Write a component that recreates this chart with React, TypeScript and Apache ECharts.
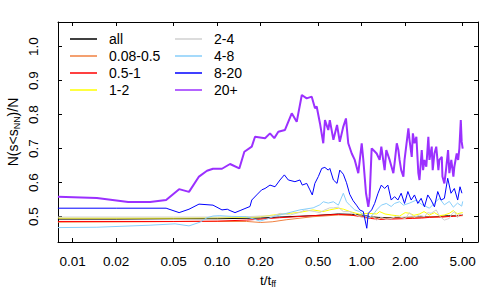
import React, { useEffect, useRef } from "react";
import * as echarts from "echarts";

const FONT = "Liberation Sans";

const seriesNames = ["all", "0.08-0.5", "0.5-1", "1-2", "2-4", "4-8", "8-20", "20+"];
const seriesColors = ["#000000", "#F08040", "#FF0000", "#FFFF00", "#D0D0D0", "#87CEFA", "#0000FF", "#9B30FF"];
const seriesWidths = [1, 1, 1, 1, 1, 1, 1, 2];

const xTickValues = [0.01, 0.02, 0.05, 0.1, 0.2, 0.5, 1, 2, 5];
const yTickValues = [0.5, 0.6, 0.7, 0.8, 0.9, 1.0];
const xRange = [0.00791, 6.38];
const yRange = [0.4256, 1.0726];

const allData = [
  [0.0079, 0.493], [0.02, 0.493], [0.05, 0.494], [0.1, 0.494], [0.2, 0.496], [0.27, 0.499],
  [0.46, 0.503], [0.69, 0.508], [0.85, 0.507], [1.0, 0.505], [1.15, 0.5], [1.3, 0.498],
  [1.6, 0.497], [2.0, 0.498], [2.5, 0.499], [3.0, 0.5], [3.5, 0.501], [4.0, 0.503], [4.5, 0.503], [5.0, 0.505],
];

const orangeData = [
  [0.0079, 0.484], [0.03, 0.485], [0.06, 0.486], [0.1, 0.486], [0.16, 0.486], [0.2, 0.483],
  [0.24, 0.485], [0.3, 0.491], [0.46, 0.5], [0.69, 0.505], [0.9, 0.504], [1.1, 0.499],
  [1.3, 0.495], [1.6, 0.496], [2.0, 0.497], [2.5, 0.498], [3.0, 0.5], [3.6, 0.499], [4.2, 0.502], [5.0, 0.503],
];

const redData = [
  [0.0079, 0.486], [0.05, 0.486], [0.1, 0.487], [0.16, 0.49], [0.27, 0.497], [0.46, 0.503],
  [0.69, 0.507], [0.83, 0.505], [1.0, 0.5], [1.15, 0.495], [1.33, 0.492], [1.6, 0.493],
  [1.9, 0.494], [2.26, 0.495], [2.6, 0.496], [2.94, 0.498], [3.4, 0.499], [3.83, 0.5],
  [4.3, 0.501], [4.6, 0.502], [5.0, 0.505],
];

const yellowData = [
  [0.0079, 0.496], [0.05, 0.496], [0.1, 0.497], [0.16, 0.498], [0.2, 0.5], [0.244, 0.505],
  [0.32, 0.51], [0.374, 0.513], [0.46, 0.52], [0.54, 0.515], [0.6, 0.52], [0.69, 0.525],
  [0.75, 0.522], [0.83, 0.515], [0.97, 0.507], [1.1, 0.51], [1.27, 0.508], [1.33, 0.515],
  [1.45, 0.508], [1.6, 0.505], [1.83, 0.502], [2.0, 0.512], [2.14, 0.51], [2.3, 0.504],
  [2.51, 0.508], [2.7, 0.515], [2.94, 0.505], [3.19, 0.512], [3.45, 0.503], [3.73, 0.505],
  [4.04, 0.51], [4.31, 0.518], [4.6, 0.508], [4.74, 0.51], [5.0, 0.512],
];

const grayData = [
  [0.0079, 0.499], [0.05, 0.499], [0.1, 0.499], [0.16, 0.5], [0.2, 0.502], [0.244, 0.502],
  [0.272, 0.51], [0.32, 0.505], [0.374, 0.513], [0.405, 0.52], [0.474, 0.515], [0.513, 0.512],
  [0.542, 0.518], [0.6, 0.526], [0.637, 0.526], [0.689, 0.528], [0.746, 0.515], [0.826, 0.515],
  [0.969, 0.5], [1.084, 0.495], [1.18, 0.503], [1.269, 0.49], [1.367, 0.498], [1.48, 0.492],
  [1.6, 0.495], [1.75, 0.502], [1.83, 0.5], [2.0, 0.494], [2.142, 0.512], [2.3, 0.498],
  [2.51, 0.505], [2.72, 0.5], [2.86, 0.512], [3.02, 0.51], [3.28, 0.52], [3.45, 0.502],
  [3.73, 0.49], [4.04, 0.495], [4.2, 0.508], [4.38, 0.515], [4.6, 0.497], [4.74, 0.508], [5.0, 0.505],
];

const lightBlueData = [
  [0.0079, 0.468], [0.0147, 0.469], [0.0343, 0.475], [0.0511, 0.479], [0.0638, 0.473],
  [0.0761, 0.484], [0.085, 0.497], [0.0935, 0.502], [0.1043, 0.503], [0.125, 0.501],
  [0.1593, 0.5], [0.1827, 0.492], [0.1977, 0.487], [0.22, 0.493], [0.2441, 0.5], [0.3013, 0.51],
  [0.3736, 0.52], [0.4612, 0.526], [0.5133, 0.535], [0.5422, 0.544], [0.5867, 0.54], [0.637, 0.544],
  [0.689, 0.534], [0.746, 0.569], [0.785, 0.544], [0.826, 0.534], [0.895, 0.52], [0.969, 0.515],
  [1.026, 0.505], [1.084, 0.5], [1.135, 0.497], [1.229, 0.512], [1.269, 0.52], [1.367, 0.534],
  [1.48, 0.539], [1.6, 0.53], [1.688, 0.539], [1.828, 0.544], [1.943, 0.534], [2.142, 0.54],
  [2.39, 0.549], [2.6, 0.536], [2.943, 0.525], [3.186, 0.54], [3.449, 0.554], [3.734, 0.535],
  [4.04, 0.545], [4.31, 0.528], [4.6, 0.54], [4.92, 0.531], [5.0, 0.545],
];

const blueData = [
  [0.0079, 0.525], [0.02, 0.525], [0.0443, 0.525], [0.0545, 0.512], [0.0638, 0.522],
  [0.0748, 0.537], [0.0935, 0.534], [0.1079, 0.52], [0.1175, 0.522], [0.1227, 0.518],
  [0.1328, 0.512], [0.1439, 0.518], [0.1556, 0.524], [0.1686, 0.53], [0.1734, 0.549],
  [0.1875, 0.564], [0.2032, 0.579], [0.2143, 0.583], [0.2319, 0.593], [0.2512, 0.588],
  [0.2719, 0.608], [0.2915, 0.623], [0.3105, 0.608], [0.345, 0.603], [0.3736, 0.608],
  [0.388, 0.593], [0.4163, 0.598], [0.4379, 0.579], [0.455, 0.564], [0.4741, 0.598],
  [0.501, 0.618], [0.529, 0.642], [0.5557, 0.645], [0.5867, 0.637], [0.6016, 0.642],
  [0.637, 0.608], [0.675, 0.598], [0.705, 0.637], [0.746, 0.625], [0.785, 0.6],
  [0.826, 0.566], [0.872, 0.547], [0.92, 0.534], [0.969, 0.52], [1.026, 0.515], [1.084, 0.466],
  [1.111, 0.51], [1.172, 0.52], [1.229, 0.539], [1.297, 0.569], [1.367, 0.593], [1.441, 0.583],
  [1.517, 0.593], [1.6, 0.549], [1.688, 0.559], [1.78, 0.549], [1.876, 0.569], [1.979, 0.539],
  [2.087, 0.574], [2.2, 0.549], [2.319, 0.564], [2.445, 0.539], [2.578, 0.554], [2.718, 0.529],
  [2.866, 0.564], [3.02, 0.549], [3.186, 0.529], [3.359, 0.574], [3.54, 0.549], [3.734, 0.554],
  [3.937, 0.613], [4.15, 0.569], [4.377, 0.583], [4.615, 0.549], [4.79, 0.588], [4.94, 0.569],
];

const purpleData = [
  [0.0079, 0.559], [0.0147, 0.555], [0.0242, 0.543], [0.0343, 0.543], [0.0443, 0.549],
  [0.0545, 0.581], [0.0638, 0.573], [0.0748, 0.618], [0.085, 0.635], [0.0935, 0.641],
  [0.1079, 0.641], [0.1227, 0.655], [0.1422, 0.642], [0.1541, 0.691], [0.1734, 0.706],
  [0.1827, 0.735], [0.2143, 0.731], [0.2319, 0.745], [0.2483, 0.731], [0.2648, 0.75],
  [0.2944, 0.755], [0.328, 0.804], [0.355, 0.779], [0.385, 0.858], [0.416, 0.848],
  [0.451, 0.853], [0.475, 0.819], [0.488, 0.824], [0.514, 0.775], [0.542, 0.716],
  [0.557, 0.784], [0.587, 0.755], [0.6016, 0.784], [0.637, 0.726], [0.675, 0.77],
  [0.705, 0.72], [0.746, 0.765], [0.778, 0.789], [0.807, 0.716], [0.853, 0.686],
  [0.895, 0.667], [0.947, 0.628], [1.0, 0.716], [1.026, 0.667], [1.071, 0.569],
  [1.111, 0.529], [1.135, 0.559], [1.172, 0.701], [1.203, 0.696], [1.269, 0.686],
  [1.331, 0.667], [1.367, 0.706], [1.441, 0.637], [1.48, 0.696], [1.56, 0.667],
  [1.656, 0.628], [1.688, 0.657], [1.749, 0.716], [1.794, 0.696], [1.828, 0.667],
  [1.876, 0.637], [1.943, 0.618], [1.979, 0.667], [2.104, 0.76], [2.142, 0.726],
  [2.22, 0.676], [2.26, 0.745], [2.319, 0.716], [2.39, 0.735], [2.466, 0.628],
  [2.511, 0.608], [2.603, 0.696], [2.66, 0.637], [2.718, 0.667], [2.8, 0.647],
  [2.892, 0.735], [2.943, 0.667], [3.052, 0.706], [3.1, 0.637], [3.186, 0.686],
  [3.28, 0.706], [3.394, 0.637], [3.449, 0.667], [3.583, 0.676], [3.62, 0.618],
  [3.734, 0.598], [3.83, 0.637], [3.96, 0.696], [4.043, 0.628], [4.17, 0.667],
  [4.31, 0.618], [4.377, 0.647], [4.545, 0.686], [4.65, 0.667], [4.74, 0.7],
  [4.85, 0.784], [4.92, 0.72], [5.0, 0.7],
];

const seriesData = [allData, orangeData, redData, yellowData, grayData, lightBlueData, blueData, purpleData];

const lg = (v: number) => Math.log10(v);

export default function App() {
  const ref = useRef<HTMLDivElement>(null);
  useEffect(() => {
    if (!ref.current) return;
    const chart = echarts.init(ref.current, undefined, { renderer: "svg" });
    const xMin = lg(xRange[0]);
    const xMax = lg(xRange[1]);
    const xTicks = xTickValues.map(lg);
    const axisLine = { show: true, onZero: false, lineStyle: { color: "#000", width: 1 } };
    const tickStyle = { show: true, inside: true, length: 4, lineStyle: { color: "#000", width: 1 } };
    const baseX = {
      type: "value" as const,
      min: xMin,
      max: xMax,
      splitLine: { show: false },
      axisLine,
    };
    const baseY = {
      type: "value" as const,
      min: yRange[0],
      max: yRange[1],
      splitLine: { show: false },
      axisLine,
    };
    const legendBase = {
      orient: "vertical" as const,
      top: 32,
      padding: 0,
      icon: "rect",
      itemWidth: 27,
      itemHeight: 1.5,
      itemGap: 3,
      textStyle: { fontSize: 14, color: "#000", fontFamily: FONT, padding: [0, 0, 0, 7] },
    };
    chart.setOption({
      animation: false,
      textStyle: { fontFamily: FONT },
      grid: { left: 58, right: 22, top: 22, bottom: 58, containLabel: false, outerBoundsMode: "none" },
      legend: [
        { ...legendBase, left: 70, data: seriesNames.slice(0, 4) },
        { ...legendBase, left: 175, data: seriesNames.slice(4) },
      ],
      xAxis: [
        {
          ...baseX,
          position: "bottom",
          name: "t/t{sub|ff}",
          nameLocation: "middle",
          nameGap: 30,
          nameMoveOverlap: false,
          nameTextStyle: {
            fontSize: 13.5, color: "#000", fontFamily: FONT, lineHeight: 16,
            rich: { sub: { fontSize: 9, lineHeight: 10, verticalAlign: "bottom", fontFamily: FONT, color: "#000" } },
          },
          axisTick: { ...tickStyle, customValues: xTicks },
          axisLabel: {
            customValues: xTicks,
            margin: 12,
            fontSize: 13.5,
            color: "#000",
            fontFamily: FONT,
            formatter: (v: number) => Math.pow(10, v).toFixed(2),
          },
        },
        {
          ...baseX,
          position: "top",
          axisTick: { ...tickStyle, customValues: xTicks },
          axisLabel: { show: false },
        },
      ],
      yAxis: [
        {
          ...baseY,
          position: "left",
          name: "N(s<s{sub|NN})/N",
          nameLocation: "middle",
          nameGap: 37,
          nameMoveOverlap: false,
          nameTextStyle: {
            fontSize: 14, color: "#000", fontFamily: FONT, lineHeight: 16,
            rich: { sub: { fontSize: 9, lineHeight: 10, verticalAlign: "bottom", fontFamily: FONT, color: "#000" } },
          },
          axisTick: { ...tickStyle, customValues: yTickValues },
          axisLabel: {
            customValues: yTickValues,
            rotate: 90,
            margin: 18,
            fontSize: 13.5,
            color: "#000",
            fontFamily: FONT,
            formatter: (v: number) => v.toFixed(1),
          },
        },
        {
          ...baseY,
          position: "right",
          axisTick: { ...tickStyle, customValues: yTickValues },
          axisLabel: { show: false },
        },
      ],
      series: seriesNames.map((name, i) => ({
        name,
        type: "line",
        xAxisIndex: 0,
        yAxisIndex: 0,
        symbol: "none",
        showSymbol: false,
        clip: true,
        color: seriesColors[i],
        lineStyle: { color: seriesColors[i], width: seriesWidths[i] },
        data: seriesData[i].map(([t, v]) => [lg(t), v]),
      })),
    });
    return () => chart.dispose();
  }, []);
  return <div ref={ref} style={{ position: "fixed", left: 0, top: 0, width: 500, height: 300, background: "#fff" }} />;
}
